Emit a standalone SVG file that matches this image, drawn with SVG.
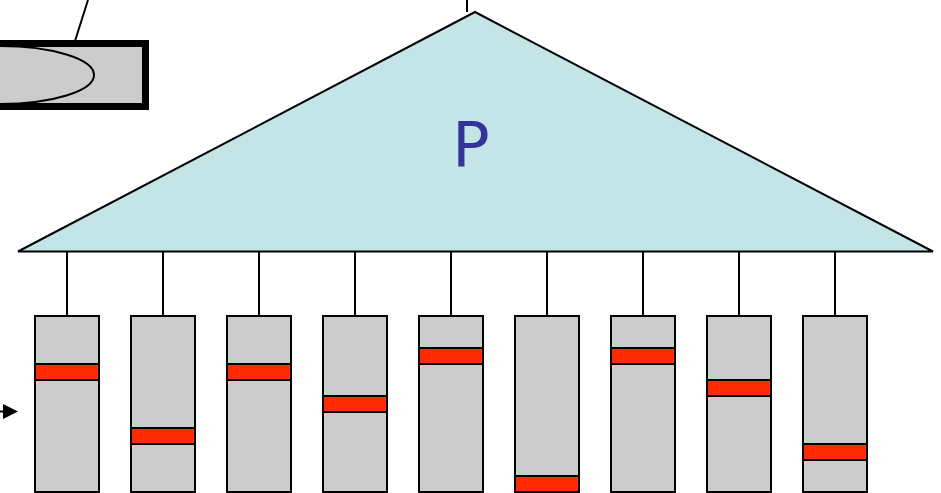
<svg xmlns="http://www.w3.org/2000/svg" width="941" height="493" viewBox="0 0 941 493">
  <style>
    .line { stroke: #000; stroke-width: 2; fill: none; }
    .bucket { fill: #cccccc; stroke: #000; stroke-width: 2; }
    .mark { fill: #ff2a00; stroke: #000; stroke-width: 2; }
  </style>
  <rect width="941" height="493" fill="#ffffff"/>

  <!-- small node at the top left -->
  <g id="corner-node">
    <line class="line" x1="88" y1="0" x2="75" y2="41"/>
    <rect x="-10" y="43.5" width="155.5" height="63" fill="#cccccc" stroke="#000" stroke-width="7"/>
    <path class="line" d="M 0 46 A 94 29 0 0 1 0 104"/>
  </g>

  <!-- partition tree -->
  <g id="tree-P">
    <line class="line" x1="467" y1="0" x2="467" y2="12"/>
    <polygon points="475,12 18,251.5 933,251.5" fill="#c4e5e8" stroke="#000" stroke-width="2" stroke-linejoin="miter"/>
    <text x="471" y="166" font-family="'DejaVu Sans', sans-serif" font-size="62" fill="#333399" text-anchor="middle">P</text>
  </g>

  <!-- links from tree to buckets -->
  <g id="connectors">
    <line class="line" x1="67" y1="251" x2="67" y2="316"/>
    <line class="line" x1="163" y1="251" x2="163" y2="316"/>
    <line class="line" x1="259" y1="251" x2="259" y2="316"/>
    <line class="line" x1="355" y1="251" x2="355" y2="316"/>
    <line class="line" x1="451" y1="251" x2="451" y2="316"/>
    <line class="line" x1="547" y1="251" x2="547" y2="316"/>
    <line class="line" x1="643" y1="251" x2="643" y2="316"/>
    <line class="line" x1="739" y1="251" x2="739" y2="316"/>
    <line class="line" x1="835" y1="251" x2="835" y2="316"/>
    <line class="line" x1="0" y1="411.5" x2="6" y2="411.5"/>
    <polygon points="3,404 18,411.5 3,419" fill="#000"/>
  </g>

  <!-- buckets with highlighted entries -->
  <g id="bucket-1"><rect class="bucket" x="35" y="316" width="64" height="176"/><rect class="mark" x="35" y="364" width="64" height="16"/></g>
  <g id="bucket-2"><rect class="bucket" x="131" y="316" width="64" height="176"/><rect class="mark" x="131" y="428" width="64" height="16"/></g>
  <g id="bucket-3"><rect class="bucket" x="227" y="316" width="64" height="176"/><rect class="mark" x="227" y="364" width="64" height="16"/></g>
  <g id="bucket-4"><rect class="bucket" x="323" y="316" width="64" height="176"/><rect class="mark" x="323" y="396" width="64" height="16"/></g>
  <g id="bucket-5"><rect class="bucket" x="419" y="316" width="64" height="176"/><rect class="mark" x="419" y="348" width="64" height="16"/></g>
  <g id="bucket-6"><rect class="bucket" x="515" y="316" width="64" height="176"/><rect class="mark" x="515" y="476" width="64" height="16"/></g>
  <g id="bucket-7"><rect class="bucket" x="611" y="316" width="64" height="176"/><rect class="mark" x="611" y="348" width="64" height="16"/></g>
  <g id="bucket-8"><rect class="bucket" x="707" y="316" width="64" height="176"/><rect class="mark" x="707" y="380" width="64" height="16"/></g>
  <g id="bucket-9"><rect class="bucket" x="803" y="316" width="64" height="176"/><rect class="mark" x="803" y="444" width="64" height="16"/></g>
</svg>
